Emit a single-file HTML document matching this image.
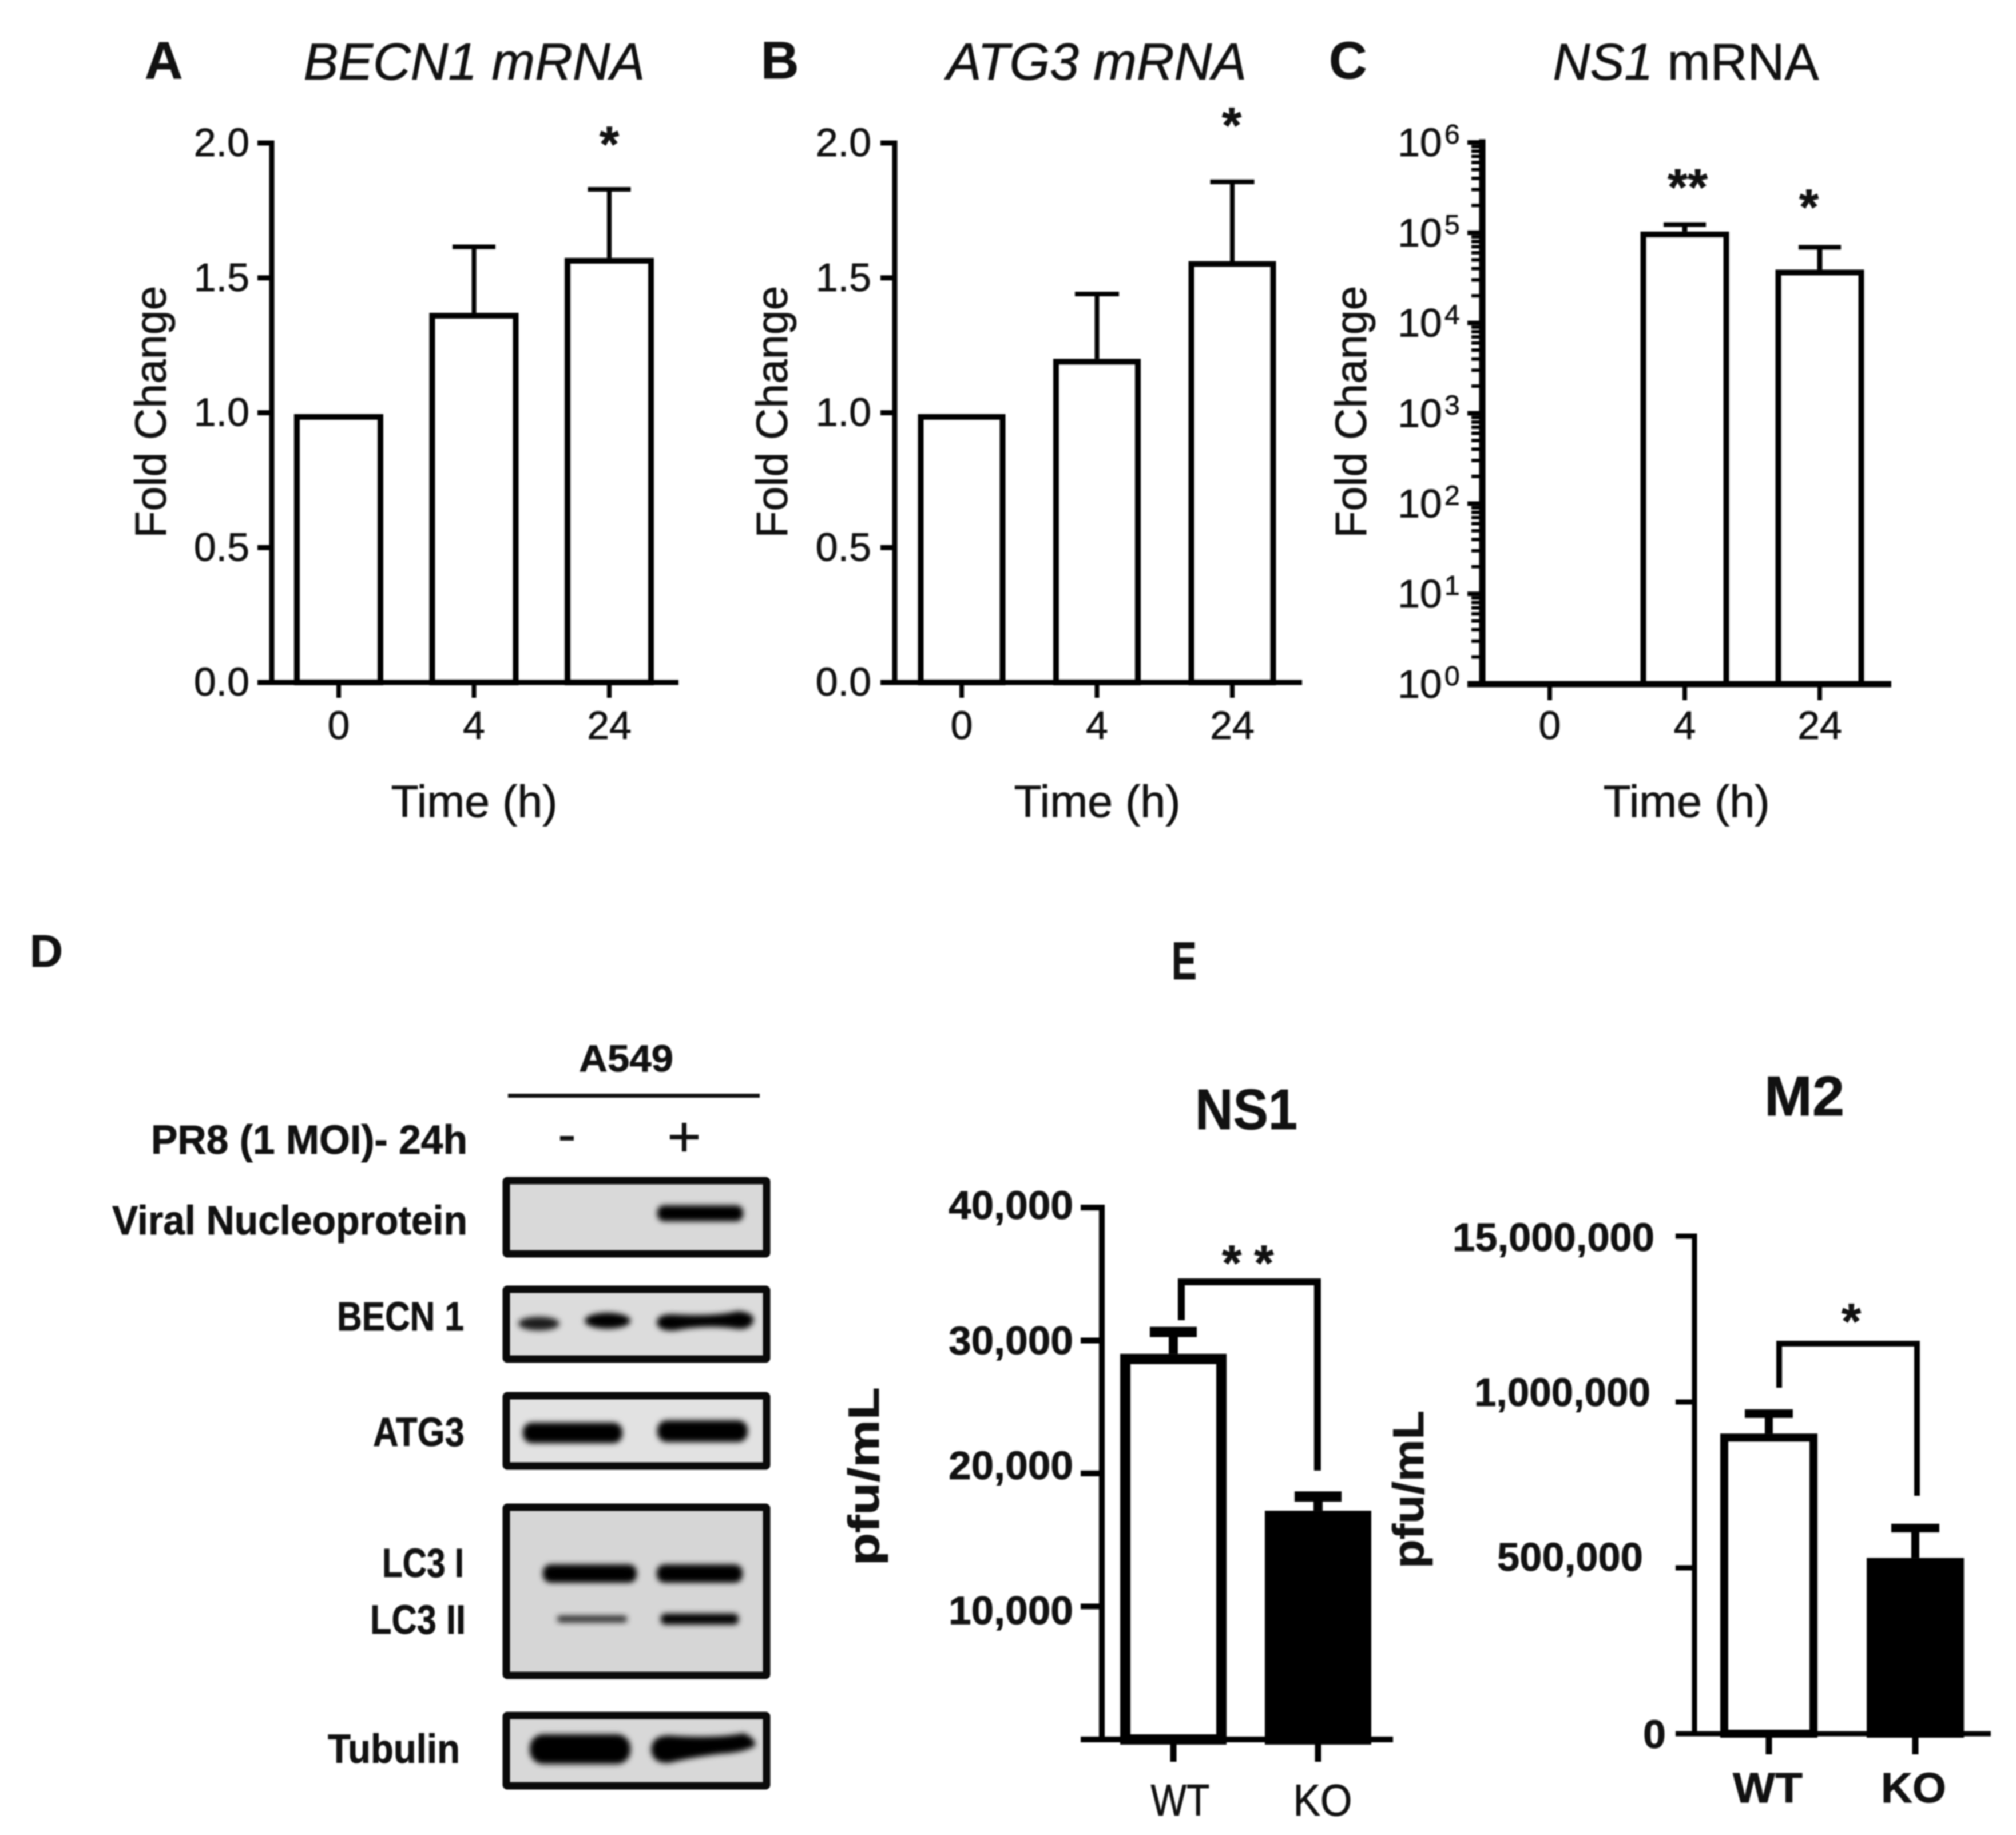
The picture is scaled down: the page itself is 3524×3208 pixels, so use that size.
<!DOCTYPE html>
<html lang="en">
<head>
<meta charset="utf-8">
<title>Autophagy gene and viral expression figure</title>
<style>
html,body{margin:0;padding:0;background:#fff;}
svg{display:block;filter:blur(1.2px);}
text{font-family:"Liberation Sans",Arial,sans-serif;fill:#111;stroke:#111;stroke-width:0.8px;}
.b{font-weight:700;}
.i{font-style:italic;}
</style>
</head>
<body>
<svg id="figure" xmlns="http://www.w3.org/2000/svg" width="3524" height="3208" viewBox="0 0 3524 3208">
<defs>
<filter id="soft" x="-20%" y="-80%" width="140%" height="260%"><feGaussianBlur stdDeviation="5"/></filter>
<filter id="softer" x="-20%" y="-80%" width="140%" height="260%"><feGaussianBlur stdDeviation="9"/></filter>
</defs>
<rect width="3524" height="3208" fill="#fff"/>

<!-- Panel headings -->
<text class="b" x="253" y="137" font-size="92">A</text>
<text class="i" x="829" y="139" font-size="91" text-anchor="middle">BECN1 mRNA</text>
<text class="b" x="1330" y="137" font-size="92">B</text>
<text class="i" x="1917" y="139" font-size="91" text-anchor="middle">ATG3 mRNA</text>
<text class="b" x="2323" y="137" font-size="92">C</text>
<text x="2947" y="139" font-size="90" text-anchor="middle"><tspan class="i">NS1</tspan> mRNA</text>

<!-- Axis titles -->
<text transform="translate(290,720) rotate(-90)" font-size="77" text-anchor="middle">Fold Change</text>
<text transform="translate(1376,720) rotate(-90)" font-size="77" text-anchor="middle">Fold Change</text>
<text transform="translate(2388,720) rotate(-90)" font-size="77" text-anchor="middle">Fold Change</text>
<text x="829" y="1428" font-size="79" text-anchor="middle">Time (h)</text>
<text x="1918" y="1428" font-size="79" text-anchor="middle">Time (h)</text>
<text x="2948" y="1428" font-size="79" text-anchor="middle">Time (h)</text>

<!-- Significance stars, panels A-C -->
<text class="b" x="1065" y="282" font-size="88" text-anchor="middle">*</text>
<text class="b" x="2153" y="249" font-size="88" text-anchor="middle">*</text>
<text class="b" x="2950" y="358" font-size="90" text-anchor="middle">**</text>
<text class="b" x="3162" y="392" font-size="88" text-anchor="middle">*</text>

<!-- Panel D: western blot -->
<g>
<text class="b" x="52" y="1690" font-size="80" textLength="58" lengthAdjust="spacingAndGlyphs">D</text>
<text class="b" x="1012" y="1873" font-size="66" textLength="165" lengthAdjust="spacingAndGlyphs">A549</text>
<rect x="888" y="1912" width="440" height="7" fill="#111"/>
<text class="b" x="264" y="2017" font-size="71" textLength="553" lengthAdjust="spacingAndGlyphs">PR8 (1 MOI)- 24h</text>
<rect x="979" y="1986" width="24" height="8" fill="#111"/>
<rect x="1171" y="1984" width="50" height="8" fill="#111"/>
<rect x="1192" y="1963" width="8" height="50" fill="#111"/>

<text class="b" x="196" y="2158" font-size="71" textLength="621" lengthAdjust="spacingAndGlyphs">Viral Nucleoprotein</text>
<text class="b" x="589" y="2326" font-size="71" textLength="222" lengthAdjust="spacingAndGlyphs">BECN 1</text>
<text class="b" x="652" y="2528" font-size="71" textLength="160" lengthAdjust="spacingAndGlyphs">ATG3</text>
<text class="b" x="668" y="2757" font-size="71" textLength="143" lengthAdjust="spacingAndGlyphs">LC3 I</text>
<text class="b" x="647" y="2856" font-size="71" textLength="167" lengthAdjust="spacingAndGlyphs">LC3 II</text>
<text class="b" x="573" y="3082" font-size="71" textLength="231" lengthAdjust="spacingAndGlyphs">Tubulin</text>

<g>
<rect x="885" y="2064" width="455" height="128" fill="#d9d9d9"/>
<rect x="1149" y="2107" width="150" height="28" rx="12" fill="#050505" filter="url(#soft)"/>
<rect x="885" y="2064" width="455" height="128" fill="none" stroke="#0a0a0a" stroke-width="13" rx="2"/>
</g>
<g>
<rect x="885" y="2254" width="455" height="122" fill="#dcdcdc"/>
<ellipse cx="942" cy="2314" rx="36" ry="12" fill="#1c1c1c" filter="url(#soft)"/>
<ellipse cx="1062" cy="2309" rx="40" ry="14" fill="#060606" filter="url(#soft)"/>
<path d="M1148 2312Q1150 2296 1180 2298Q1250 2302 1290 2292Q1320 2295 1317 2310Q1310 2328 1280 2322Q1230 2316 1180 2326Q1150 2328 1148 2312Z" fill="#030303" filter="url(#soft)"/>
<rect x="885" y="2254" width="455" height="122" fill="none" stroke="#0a0a0a" stroke-width="13" rx="2"/>
</g>
<g>
<rect x="885" y="2440" width="455" height="123" fill="#e2e2e2"/>
<rect x="914" y="2487" width="174" height="36" rx="16" fill="#030303" filter="url(#soft)"/>
<rect x="1149" y="2483" width="158" height="38" rx="17" fill="#030303" filter="url(#soft)"/>
<rect x="885" y="2440" width="455" height="123" fill="none" stroke="#0a0a0a" stroke-width="13" rx="2"/>
</g>
<g>
<rect x="885" y="2635" width="455" height="294" fill="#d6d6d6"/>
<rect x="949" y="2735" width="164" height="32" rx="14" fill="#000" filter="url(#soft)"/>
<rect x="1148" y="2735" width="150" height="32" rx="14" fill="#000" filter="url(#soft)"/>
<rect x="974" y="2825" width="122" height="11" rx="5" fill="#222" filter="url(#soft)"/>
<rect x="1155" y="2821" width="136" height="19" rx="8" fill="#000" filter="url(#soft)"/>
<rect x="885" y="2635" width="455" height="294" fill="none" stroke="#0a0a0a" stroke-width="13" rx="2"/>
</g>
<g>
<rect x="885" y="2999" width="455" height="123" fill="#d8d8d8"/>
<rect x="926" y="3032" width="176" height="52" rx="24" fill="#000" filter="url(#soft)"/>
<path d="M1138 3058Q1140 3034 1170 3034Q1250 3040 1300 3030Q1322 3040 1320 3052Q1300 3064 1260 3066Q1210 3072 1170 3082Q1140 3084 1138 3058Z" fill="#000" filter="url(#soft)"/>
<rect x="885" y="2999" width="455" height="123" fill="none" stroke="#0a0a0a" stroke-width="13" rx="2"/>
</g>
</g>

<!-- Panel E headings -->
<text class="b" x="2048" y="1712" font-size="94" textLength="44" lengthAdjust="spacingAndGlyphs">E</text>
<text class="b" x="2089" y="1974" font-size="100" textLength="179" lengthAdjust="spacingAndGlyphs">NS1</text>
<text class="b" x="3084" y="1950" font-size="98" textLength="140" lengthAdjust="spacingAndGlyphs">M2</text>
<text class="b" transform="translate(1536,2737) rotate(-90)" font-size="76" textLength="312" lengthAdjust="spacingAndGlyphs">pfu/mL</text>
<text class="b" transform="translate(2488,2742) rotate(-90)" font-size="76" textLength="276" lengthAdjust="spacingAndGlyphs">pfu/mL</text>

<!-- Panel E brackets -->
<path d="M2065 2308V2241H2303V2571" fill="none" stroke="#000" stroke-width="12"/>
<text class="b" x="2136" y="2238" font-size="88" letter-spacing="22">**</text>
<path d="M3110 2426V2349H3351V2615" fill="none" stroke="#000" stroke-width="10"/>
<text class="b" x="3236" y="2340" font-size="88" text-anchor="middle">*</text>

<g id="charts"></g>
</svg>

<script>
// ---- chart data ----
const timeCategories = ['0', '4', '24'];
const becn1Values = [0.995, 1.37, 1.574];
const becn1Errors = [0, 0.245, 0.254];
const atg3Values = [0.995, 1.2, 1.562];
const atg3Errors = [0, 0.24, 0.294];
const foldTicks = [0, 0.5, 1, 1.5, 2];
const foldTickLabels = ['0.0', '0.5', '1.0', '1.5', '2.0'];

const ns1MrnaValues = [1, 103000, 39000];
const ns1MrnaErrors = [0, 20000, 30000];
const logExponents = [0, 1, 2, 3, 4, 5, 6];
const logMinorMultipliers = [2, 3, 4, 5, 6, 7, 8, 9];

const genotypeCategories = ['WT', 'KO'];
const ns1PfuValues = [29000, 17200];
const ns1PfuErrors = [1640, 1070];
const ns1PfuTicks = [10000, 20000, 30000, 40000];
const ns1PfuTickLabels = ['10,000', '20,000', '30,000', '40,000'];

const m2PfuValues = [905000, 530000];
const m2PfuErrors = [60000, 90000];
const m2PfuTicks = [0, 500000, 1000000, 1500000];
const m2PfuTickLabels = ['0', '500,000', '1,000,000', '15,000,000'];

// ---- layout (separate from data) ----
const layoutA = {id:'becn1', yTop:250, yZero:1193, yMax:2, axisX:475, axisW:9, tickLeft:450, axisRight:1186, x0:592, step:236.5, barW:156, barSW:10, capW:75, capSW:8, stemW:8, tickW:8, tickBottom:1220, labelRight:436, labelDy:23, labelSize:70, catY:1292, catSize:70};
const layoutB = {id:'atg3', yTop:250, yZero:1193, yMax:2, axisX:1564, axisW:9, tickLeft:1539, axisRight:2276, x0:1681, step:236.5, barW:153, barSW:10, capW:77, capSW:8, stemW:8, tickW:8, tickBottom:1220, labelRight:1523, labelDy:23, labelSize:70, catY:1292, catSize:70};
const layoutC = {id:'ns1-mrna', log:true, yTop:249, yZero:1196, decades:6, axisX:2591, axisW:11, tickLeft:2565, axisRight:3306, x0:2709, step:236, barW:155, barSW:10, capW:74, capSW:8, stemW:9, tickW:8, tickBottom:1224, catY:1292, catSize:70};
const layoutNs1 = {id:'ns1-pfu', yTop:2111, yZero:3041, yMax:40000, axisX:1926, axisW:10, tickLeft:1889, axisRight:2435, x0:2051, step:253, barW:186, barSW:18, capW:82, capSW:18, stemW:16, tickW:11, tickBottom:3080, labelRight:1876, labelDys:[31,10,24,20], labelWidths:[218,218,218,218], labelSize:70, labelBold:true, catY:3174, catSize:78, catDx:[12,8], catWidths:[103,103], fills:['#fff','#000']};
const layoutM2 = {id:'m2-pfu', yTop:2161, yZero:3031, yMax:1500000, axisX:2962, axisW:9, tickLeft:2929, axisRight:3480, x0:3092, step:256, barW:170, barSW:14, capW:84, capSW:15, stemW:14, tickW:11, tickBottom:3067, labelRight:2912, labelDys:[25,5,7,26], labelRights:[2912,2872,2885,2892], labelWidths:[40,255,308,353], labelSize:70, labelBold:true, catY:3151, catSize:74, catBold:true, catDx:[-2,-3], catWidths:[122,114], fills:['#fff','#000']};

const SVGNS = 'http://www.w3.org/2000/svg';
const root = document.getElementById('charts');

function make(tag, attrs, parent) {
  const el = document.createElementNS(SVGNS, tag);
  Object.keys(attrs).forEach(function (k) { el.setAttribute(k, attrs[k]); });
  parent.appendChild(el);
  return el;
}

function yScaleFor(L) {
  if (L.log) {
    return function (v) { return L.yZero - Math.log10(v) / L.decades * (L.yZero - L.yTop); };
  }
  return function (v) { return L.yZero - v / L.yMax * (L.yZero - L.yTop); };
}

function drawBarsAndAxes(L, categories, values, errors) {
  const y = yScaleFor(L);
  const cx = function (i) { return L.x0 + i * L.step; };
  const g = make('g', {}, root);
  
  

  values.forEach(function (v, i) {
    if (errors[i] > 0) {
      const top = y(v + errors[i]);
      const stem = make('rect', {x: cx(i) - L.stemW / 2, y: top, width: L.stemW, height: y(v) - top, fill: '#000'}, g);
      
      
      const cap = make('rect', {x: cx(i) - L.capW / 2, y: top - L.capSW / 2, width: L.capW, height: L.capSW, fill: '#000'}, g);
      
      
    }
    const fill = L.fills ? L.fills[i] : '#fff';
    const top = y(v);
    const bar = make('rect', {x: cx(i) - L.barW / 2 + L.barSW / 2, y: top + L.barSW / 2, width: L.barW - L.barSW, height: Math.max(0, L.yZero - top - L.barSW / 2), fill: fill, stroke: '#000', 'stroke-width': L.barSW}, g);
    
    
  });

  const yAxis = make('rect', {x: L.axisX - L.axisW / 2, y: L.yTop - L.axisW / 2, width: L.axisW, height: L.yZero - L.yTop + L.axisW, fill: '#000'}, g);
  
  
  const xAxis = make('rect', {x: L.tickLeft, y: L.yZero - L.axisW / 2, width: L.axisRight - L.tickLeft, height: L.axisW, fill: '#000'}, g);
  
  

  categories.forEach(function (c, i) {
    const tick = make('rect', {x: cx(i) - L.tickW / 2, y: L.yZero, width: L.tickW, height: L.tickBottom - L.yZero, fill: '#000'}, g);
    
    
    const dx = L.catDx ? L.catDx[i] : 0;
    const t = make('text', {x: cx(i) + dx, y: L.catY, 'font-size': L.catSize, 'text-anchor': 'middle'}, g);
    if (L.catBold) { t.setAttribute('class', 'b'); }
    if (L.catWidths) {
      t.setAttribute('textLength', L.catWidths[i]);
      t.setAttribute('lengthAdjust', 'spacingAndGlyphs');
    }
    t.textContent = c;
    
    
  });
  return g;
}

function drawLinearTicks(L, g, ticks, labels) {
  const y = yScaleFor(L);
  ticks.forEach(function (v, i) {
    const tick = make('rect', {x: L.tickLeft, y: y(v) - L.axisW / 2, width: L.axisX - L.tickLeft, height: L.axisW, fill: '#000'}, g);
    
    
    const dy = L.labelDys ? L.labelDys[i] : L.labelDy;
    const right = L.labelRights ? L.labelRights[i] : L.labelRight;
    const t = make('text', {x: right, y: y(v) + dy, 'font-size': L.labelSize, 'text-anchor': 'end'}, g);
    if (L.labelBold) { t.setAttribute('class', 'b'); }
    if (L.labelWidths) {
      t.setAttribute('textLength', L.labelWidths[i]);
      t.setAttribute('lengthAdjust', 'spacingAndGlyphs');
    }
    t.textContent = labels[i];
    
    
  });
}

function drawLogTicks(L, g, exponents, minors) {
  const y = yScaleFor(L);
  exponents.forEach(function (e) {
    const v = Math.pow(10, e);
    const tick = make('rect', {x: L.tickLeft, y: y(v) - 4, width: L.axisX - L.tickLeft, height: 8, fill: '#000'}, g);
    
    
    const t = make('text', {x: 2443, y: y(v) + 24, 'font-size': 70}, g);
    t.textContent = '10';
    const sup = make('tspan', {x: 2525, y: y(v) + 2, 'font-size': 48}, t);
    sup.textContent = String(e);
    
    
    if (e < exponents[exponents.length - 1]) {
      minors.forEach(function (m) {
        const minor = make('rect', {x: L.axisX - 19, y: y(m * v) - 3, width: 16, height: 6, fill: '#000'}, g);
        
        
      });
    }
  });
}

const gA = drawBarsAndAxes(layoutA, timeCategories, becn1Values, becn1Errors);
drawLinearTicks(layoutA, gA, foldTicks, foldTickLabels);
const gB = drawBarsAndAxes(layoutB, timeCategories, atg3Values, atg3Errors);
drawLinearTicks(layoutB, gB, foldTicks, foldTickLabels);
const gC = drawBarsAndAxes(layoutC, timeCategories, ns1MrnaValues, ns1MrnaErrors);
drawLogTicks(layoutC, gC, logExponents, logMinorMultipliers);
const gN = drawBarsAndAxes(layoutNs1, genotypeCategories, ns1PfuValues, ns1PfuErrors);
drawLinearTicks(layoutNs1, gN, ns1PfuTicks, ns1PfuTickLabels);
const gM = drawBarsAndAxes(layoutM2, genotypeCategories, m2PfuValues, m2PfuErrors);
drawLinearTicks(layoutM2, gM, m2PfuTicks, m2PfuTickLabels);
</script>
</body>
</html>
